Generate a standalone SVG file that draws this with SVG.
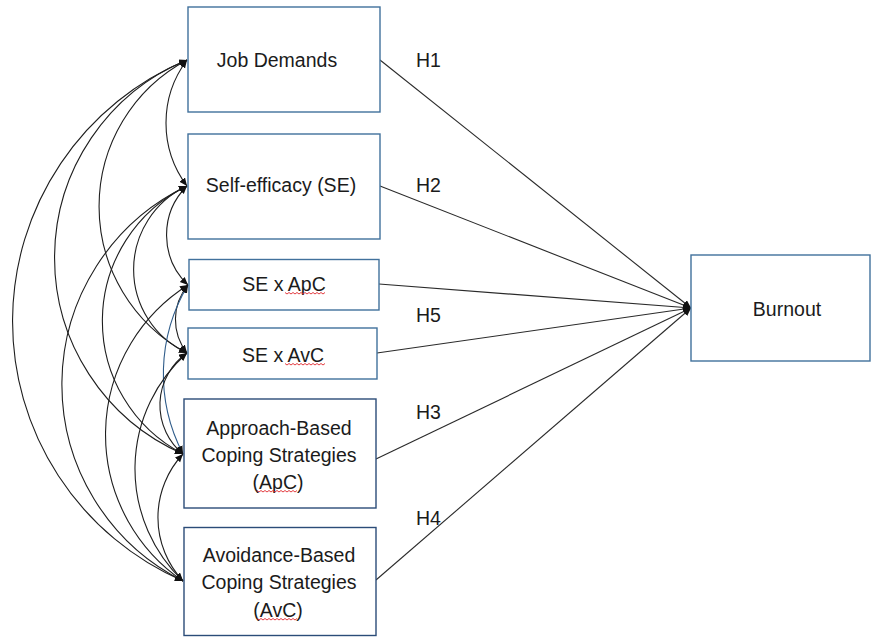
<svg xmlns="http://www.w3.org/2000/svg" width="872" height="637" viewBox="0 0 872 637">
<style>
.box{fill:#fff;stroke:#41719C;stroke-width:1.4}
.box2{fill:#fff;stroke:#2B4C78;stroke-width:1.4}
.t{font-family:"Liberation Sans",Arial,sans-serif;font-size:19.5px;fill:#1b1b1b;text-anchor:middle}
.h{font-family:"Liberation Sans",Arial,sans-serif;font-size:19.5px;fill:#1b1b1b}
.arc{fill:none;stroke:#1e1e1e;stroke-width:1.1;marker-start:url(#ah);marker-end:url(#ah)}
.blue{stroke:#2F5C8A}
.ln{fill:none;stroke:#2a2a2a;stroke-width:1.1;marker-end:url(#ah)}
.sq{fill:none;stroke:#E0262B;stroke-width:0.9}
</style>
<defs>
<marker id="ah" markerUnits="userSpaceOnUse" markerWidth="9" markerHeight="8" refX="8" refY="3.5" orient="auto-start-reverse">
<path d="M0,0 L8,3.5 L0,7 z" fill="#111"/>
</marker>
<path id="squig" class="sq" d="M0,0 l2,1.5 l2,-1.5 l2,1.5 l2,-1.5 l2,1.5 l2,-1.5 l2,1.5 l2,-1.5 l2,1.5 l2,-1.5 l2,1.5 l2,-1.5 l2,1.5 l2,-1.5 l2,1.5 l2,-1.5 l2,1.5 l2,-1.5 l2,1.5 l2,-1.5"/>
</defs>

<g id="connectors">
<path class="arc" d="M187,60 A105,105 0 0 0 187,186"/>
<path class="arc" d="M187,60 A166,166 0 0 0 187,353"/>
<path class="arc" d="M187,60 A214,214 0 0 0 183,454"/>
<path class="arc" d="M187,60 A283,283 0 0 0 183,581"/>
<path class="arc" d="M187,186 A69,69 0 0 0 188,285"/>
<path class="arc" d="M187,186 A92,92 0 0 0 187,353"/>
<path class="arc" d="M187,186 A150,150 0 0 0 183,454"/>
<path class="arc" d="M187,186 A220,220 0 0 0 183,581"/>
<path class="arc" d="M188,285 A54,54 0 0 0 187,353"/>
<path class="arc blue" d="M188,285 A173,173 0 0 0 183,454"/>
<path class="arc" d="M188,285 A177,177 0 0 0 183,581"/>
<path class="arc" d="M187,353 A63.5,63.5 0 0 0 183,454"/>
<path class="arc" d="M187,353 A155,155 0 0 0 183,581"/>
<path class="arc" d="M183,454 A93,93 0 0 0 183,581"/>
<path class="ln" d="M380,60 L691,308"/>
<path class="ln" d="M380,186 L691,308"/>
<path class="ln" d="M379,284 L691,308"/>
<path class="ln" d="M377,353 L691,308"/>
<path class="ln" d="M376,459 L691,308"/>
<path class="ln" d="M376,580 L691,308"/>
</g>

<g id="labels">
<text class="h" x="416" y="66.5">H1</text>
<text class="h" x="416" y="192">H2</text>
<text class="h" x="416" y="322">H5</text>
<text class="h" x="416" y="419">H3</text>
<text class="h" x="416" y="525">H4</text>
</g>

<g id="job-demands">
<rect class="box" x="188" y="7" width="192" height="105"/>
<text class="t" x="277" y="66.5">Job Demands</text>
</g>
<g id="self-efficacy">
<rect class="box" x="188" y="134" width="192" height="105"/>
<text class="t" x="281" y="191.5">Self-efficacy (SE)</text>
</g>
<g id="se-x-apc">
<rect class="box" x="189" y="259.5" width="190" height="50.5"/>
<text class="t" x="284" y="290.5">SE x ApC</text>
<use href="#squig" x="285" y="292.5"/>
</g>
<g id="se-x-avc">
<rect class="box" x="188" y="328" width="189" height="51"/>
<text class="t" x="283" y="362">SE x AvC</text>
<use href="#squig" x="285" y="363.5"/>
</g>
<g id="approach-coping">
<rect class="box2" x="184" y="399" width="192" height="109"/>
<text class="t" x="279" y="434.5">Approach-Based</text>
<text class="t" x="279" y="461.5">Coping Strategies</text>
<text class="t" x="278" y="489">(ApC)</text>
<use href="#squig" x="257" y="490.5"/>
</g>
<g id="avoidance-coping">
<rect class="box2" x="184" y="527.5" width="192" height="108"/>
<text class="t" x="279" y="562">Avoidance-Based</text>
<text class="t" x="279" y="589">Coping Strategies</text>
<text class="t" x="278" y="617">(AvC)</text>
<use href="#squig" x="257" y="618.5"/>
</g>
<g id="burnout">
<rect class="box" x="691" y="255" width="179" height="106"/>
<text class="t" x="787" y="316">Burnout</text>
</g>
</svg>
